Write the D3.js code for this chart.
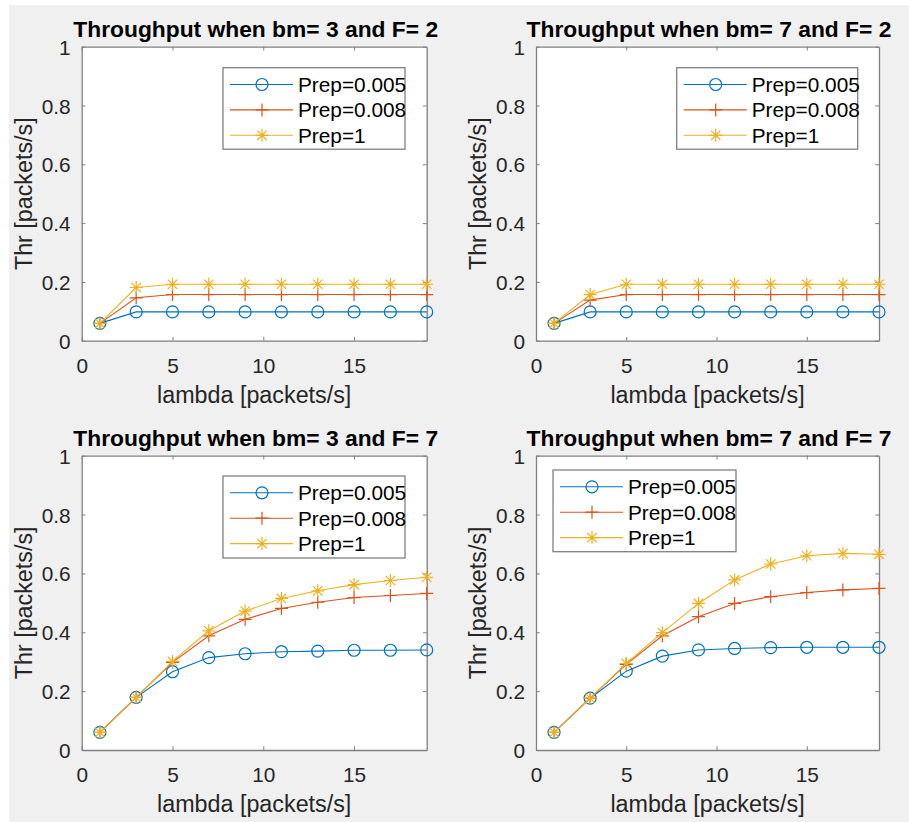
<!DOCTYPE html>
<html>
<head>
<meta charset="utf-8">
<script src="https://cdn.jsdelivr.net/npm/d3@7"></script>
<style>
  html, body { margin: 0; padding: 0; background: #ffffff; }
  svg { display: block; }
  text { font-family: "Liberation Sans", Arial, Helvetica, sans-serif; }
</style>
</head>
<body>
<script>
// ---------------- DATA ----------------
const lambdaValues = [1, 3, 5, 7, 9, 11, 13, 15, 17, 19];
const seriesNames = ["Prep=0.005", "Prep=0.008", "Prep=1"];
const xTicks = [0, 5, 10, 15];
const yTicks = [0, 0.2, 0.4, 0.6, 0.8, 1];
const yTickLabels = ["0", "0.2", "0.4", "0.6", "0.8", "1"];
const panelTitles = [
  "Throughput when bm= 3 and F= 2",
  "Throughput when bm= 7 and F= 2",
  "Throughput when bm= 3 and F= 7",
  "Throughput when bm= 7 and F= 7"
];
const xLabel = "lambda [packets/s]";
const yLabel = "Thr [packets/s]";

// bm=3, F=2
const p1_prep005 = [0.059, 0.098, 0.098, 0.098, 0.098, 0.098, 0.098, 0.098, 0.098, 0.098];
const p1_prep008 = [0.059, 0.146, 0.157, 0.157, 0.157, 0.157, 0.157, 0.157, 0.157, 0.157];
const p1_prep1   = [0.059, 0.181, 0.192, 0.192, 0.192, 0.192, 0.192, 0.192, 0.192, 0.192];
// bm=7, F=2
const p2_prep005 = [0.059, 0.098, 0.098, 0.098, 0.098, 0.098, 0.098, 0.098, 0.098, 0.098];
const p2_prep008 = [0.059, 0.138, 0.157, 0.157, 0.157, 0.157, 0.157, 0.157, 0.157, 0.157];
const p2_prep1   = [0.059, 0.157, 0.192, 0.192, 0.192, 0.192, 0.192, 0.192, 0.192, 0.192];
// bm=3, F=7
const p3_prep005 = [0.060, 0.179, 0.266, 0.314, 0.327, 0.334, 0.336, 0.339, 0.339, 0.340];
const p3_prep008 = [0.060, 0.179, 0.298, 0.388, 0.444, 0.481, 0.502, 0.518, 0.525, 0.532];
const p3_prep1   = [0.060, 0.179, 0.301, 0.405, 0.472, 0.515, 0.541, 0.562, 0.576, 0.587];
// bm=7, F=7
const p4_prep005 = [0.060, 0.176, 0.268, 0.319, 0.340, 0.345, 0.348, 0.349, 0.349, 0.349];
const p4_prep008 = [0.060, 0.176, 0.291, 0.388, 0.453, 0.498, 0.521, 0.535, 0.544, 0.549];
const p4_prep1   = [0.060, 0.176, 0.294, 0.399, 0.498, 0.578, 0.632, 0.660, 0.668, 0.665];

const panelData = [
  [p1_prep005, p1_prep008, p1_prep1],
  [p2_prep005, p2_prep008, p2_prep1],
  [p3_prep005, p3_prep008, p3_prep1],
  [p4_prep005, p4_prep008, p4_prep1]
];

// ---------------- STYLE / LAYOUT ----------------
const W = 909, H = 822;
const colors = ["#0072BD", "#D95319", "#EDB120"];
const markers = ["circle", "plus", "asterisk"];
const axisColor = "#808080";
const textColor = "#262626";
const tickFont = 20.8, labelFont = 23.3, titleFont = 22.8;

const panels = [
  { x0: 81.7, x1: 426.7, y0: 46.7, y1: 340.7, legend: { x: 223, y: 67.7, w: 182, h: 81.5 } },
  { x0: 536,  x1: 879,   y0: 46.7, y1: 340.7, legend: { x: 676.7, y: 67.7, w: 181, h: 81.5 } },
  { x0: 81.7, x1: 426.7, y0: 455.7, y1: 750,  legend: { x: 223, y: 476, w: 182, h: 82 } },
  { x0: 536,  x1: 879,   y0: 455.7, y1: 750,  legend: { x: 553, y: 470, w: 183, h: 81.7 } }
];

const svg = d3.select("body").append("svg")
  .attr("width", W).attr("height", H);

// figure background
svg.append("rect").attr("x", 0).attr("y", 0).attr("width", W).attr("height", H).attr("fill", "#ffffff");
svg.append("rect").attr("x", 9).attr("y", 5).attr("width", W - 9).attr("height", H - 5).attr("fill", "#F0F0F0");

function drawMarker(g, type, cx, cy, color) {
  const s = 6.5;
  if (type === "circle") {
    g.append("circle").attr("cx", cx).attr("cy", cy).attr("r", 6)
      .attr("fill", "none").attr("stroke", color).attr("stroke-width", 1.2);
  } else if (type === "plus") {
    g.append("path").attr("d", `M${cx - s},${cy}H${cx + s}M${cx},${cy - s}V${cy + s}`)
      .attr("stroke", color).attr("stroke-width", 1.2).attr("fill", "none");
  } else {
    const d = s * 0.72;
    g.append("path").attr("d",
      `M${cx - s},${cy}H${cx + s}M${cx},${cy - s}V${cy + s}` +
      `M${cx - d},${cy - d}L${cx + d},${cy + d}M${cx - d},${cy + d}L${cx + d},${cy - d}`)
      .attr("stroke", color).attr("stroke-width", 1.2).attr("fill", "none");
  }
}

panels.forEach((p, i) => {
  const x = d3.scaleLinear().domain([0, 19]).range([p.x0, p.x1]);
  const y = d3.scaleLinear().domain([0, 1]).range([p.y1, p.y0]);
  const g = svg.append("g");

  // plot area
  g.append("rect").attr("x", p.x0).attr("y", p.y0)
    .attr("width", p.x1 - p.x0).attr("height", p.y1 - p.y0)
    .attr("fill", "#ffffff");

  // axes with d3 axis generators (inward ticks)
  const tl = 3.8;
  const xAxisB = d3.axisBottom(x).tickValues(xTicks).tickSizeInner(-tl).tickSizeOuter(0).tickPadding(0).tickFormat(d3.format("d"));
  const xAxisT = d3.axisTop(x).tickValues(xTicks).tickSizeInner(-tl).tickSizeOuter(0).tickFormat("");
  const yAxisL = d3.axisLeft(y).tickValues(yTicks).tickSizeInner(-tl).tickSizeOuter(0).tickPadding(0)
    .tickFormat((d, k) => yTickLabels[k]);
  const yAxisR = d3.axisRight(y).tickValues(yTicks).tickSizeInner(-tl).tickSizeOuter(0).tickFormat("");

  const gxb = g.append("g").attr("transform", `translate(0,${p.y1})`).call(xAxisB);
  const gxt = g.append("g").attr("transform", `translate(0,${p.y0})`).call(xAxisT);
  const gyl = g.append("g").attr("transform", `translate(${p.x0},0)`).call(yAxisL);
  const gyr = g.append("g").attr("transform", `translate(${p.x1},0)`).call(yAxisR);

  [gxb, gxt, gyl, gyr].forEach(a => {
    a.select(".domain").attr("stroke", axisColor).attr("stroke-width", 1.3);
    a.selectAll(".tick line").attr("stroke", axisColor).attr("stroke-width", 1);
  });
  gxb.selectAll(".tick text")
    .attr("font-size", tickFont).attr("fill", textColor)
    .attr("font-family", "Liberation Sans, Arial, sans-serif")
    .attr("y", 32).attr("dy", 0);
  gyl.selectAll(".tick text")
    .attr("font-size", tickFont).attr("fill", textColor)
    .attr("font-family", "Liberation Sans, Arial, sans-serif")
    .attr("x", -11).attr("dy", "0.36em");

  // series
  const line = d3.line().x((d, k) => x(lambdaValues[k])).y(d => y(d));
  panelData[i].forEach((vals, s) => {
    g.append("path").datum(vals).attr("d", line)
      .attr("fill", "none").attr("stroke", colors[s]).attr("stroke-width", 1.1);
    vals.forEach((v, k) => drawMarker(g, markers[s], x(lambdaValues[k]), y(v), colors[s]));
  });

  // title
  g.append("text").attr("x", (p.x0 + p.x1) / 2 + 1.5).attr("y", p.y0 - 9.5)
    .attr("text-anchor", "middle").attr("font-size", titleFont).attr("font-weight", "bold")
    .attr("fill", "#000000").text(panelTitles[i]);

  // x label
  g.append("text").attr("x", (p.x0 + p.x1) / 2).attr("y", p.y1 + 62)
    .attr("text-anchor", "middle").attr("font-size", labelFont).attr("fill", textColor)
    .text(xLabel);

  // y label
  g.append("text")
    .attr("transform", `translate(${p.x0 - 50},${(p.y0 + p.y1) / 2}) rotate(-90)`)
    .attr("text-anchor", "middle").attr("font-size", labelFont).attr("fill", textColor)
    .text(yLabel);

  // legend
  const L = p.legend;
  const lg = g.append("g");
  lg.append("rect").attr("x", L.x).attr("y", L.y).attr("width", L.w).attr("height", L.h)
    .attr("fill", "#ffffff").attr("stroke", axisColor).attr("stroke-width", 1.3);
  seriesNames.forEach((name, s) => {
    const ly = L.y + 16.8 + s * 25.4;
    lg.append("line").attr("x1", L.x + 7).attr("x2", L.x + 70).attr("y1", ly).attr("y2", ly)
      .attr("stroke", colors[s]).attr("stroke-width", 1.1);
    drawMarker(lg, markers[s], L.x + 39, ly, colors[s]);
    lg.append("text").attr("x", L.x + 75).attr("y", ly).attr("dy", "0.36em")
      .attr("font-size", tickFont).attr("fill", "#000000").text(name);
  });
});
</script>
</body>
</html>
